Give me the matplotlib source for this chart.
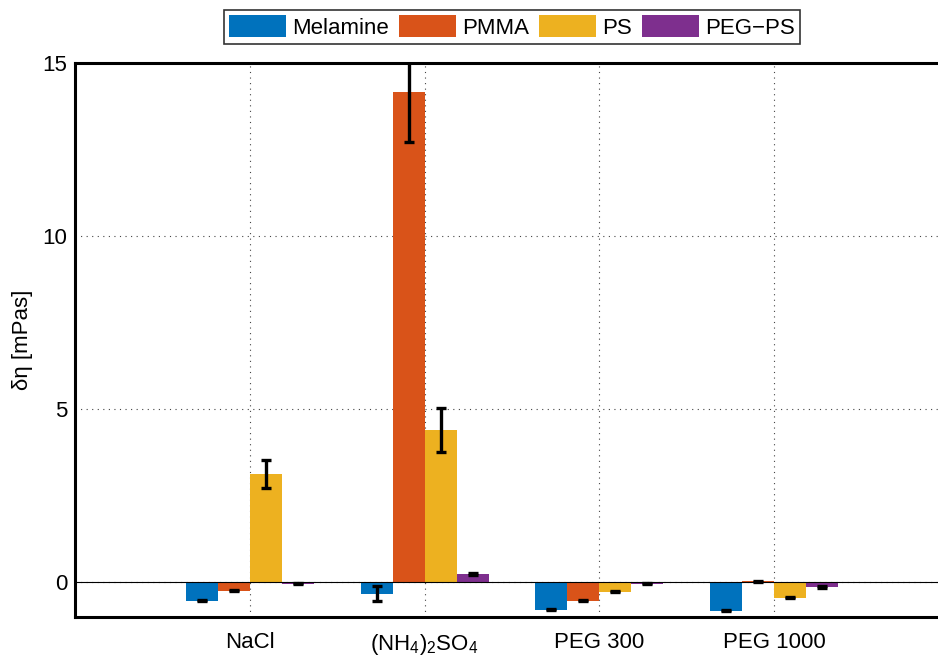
import numpy as np
import matplotlib
matplotlib.use("Agg")
import matplotlib.pyplot as plt

plt.rcParams['font.family'] = ['Liberation Sans', 'DejaVu Sans']
plt.rcParams['mathtext.fontset'] = 'custom'
plt.rcParams['mathtext.rm'] = 'Liberation Sans'
plt.rcParams['mathtext.it'] = 'Liberation Sans:italic'
plt.rcParams['mathtext.default'] = 'regular'

categories = ['NaCl', r'(NH$_4$)$_2$SO$_4$', 'PEG 300', 'PEG 1000']
series = ['Melamine', 'PMMA', 'PS', 'PEG\u2212PS']
melamine = [-0.53, -0.33, -0.79, -0.82]
melamine_err = [0.02, 0.22, 0.02, 0.02]
pmma = [-0.24, 14.17, -0.53, 0.03]
pmma_err = [0.02, 1.44, 0.02, 0.01]
ps = [3.13, 4.40, -0.27, -0.44]
ps_err = [0.40, 0.63, 0.02, 0.02]
pegps = [-0.04, 0.24, -0.04, -0.13]
pegps_err = [0.02, 0.02, 0.02, 0.03]

colors = ['#0072BD', '#D95319', '#EDB120', '#7E2F8E']
values = [melamine, pmma, ps, pegps]
errors = [melamine_err, pmma_err, ps_err, pegps_err]

fig = plt.figure(figsize=(9.38, 6.62), dpi=100)
ax = fig.add_axes([75 / 938, 1 - 617 / 662, (949 - 75) / 938, (617 - 63) / 662])

x = np.arange(1, len(categories) + 1)
w = 32 / 175
for i, (vals, errs, c, name) in enumerate(zip(values, errors, colors, series)):
    pos = x + (i - 1.5) * w
    ax.bar(pos, vals, width=w, color=c, edgecolor='none', label=name, zorder=2)
    ax.errorbar(pos, vals, yerr=errs, fmt='none', ecolor='black',
                elinewidth=2.4, capsize=3.6, capthick=2.4, zorder=3)

ax.axhline(0, color='black', lw=0.8, zorder=2.5)
ax.set_xlim(0, 5)
ax.set_ylim(-1, 15)
ax.set_xticks(x)
ax.set_xticklabels(categories, fontsize=16)
ax.set_yticks([0, 5, 10, 15])
ax.set_yticklabels(['0', '5', '10', '15'], fontsize=16)
ax.tick_params(length=0)
ax.tick_params(axis='x', pad=11)
ax.tick_params(axis='y', pad=5.5)
ax.grid(True, linestyle=(0, (1, 4)), color='#444444', lw=0.8, zorder=0)
ax.set_axisbelow(True)
for s in ax.spines.values():
    s.set_linewidth(2.2)
ax.set_ylabel('\u03b4\u03b7 [mPas]', fontsize=16, labelpad=7)

leg = ax.legend(loc='center', bbox_to_anchor=(0.5, 1 + 36 / 554), ncol=4,
                fontsize=16, frameon=True, fancybox=False, edgecolor='black',
                handlelength=2.57, handleheight=1.1, handletextpad=0.27,
                columnspacing=0.45, borderpad=0.25, borderaxespad=0)
leg.get_frame().set_linewidth(1.2)

fig.savefig('out.png', dpi=100)
